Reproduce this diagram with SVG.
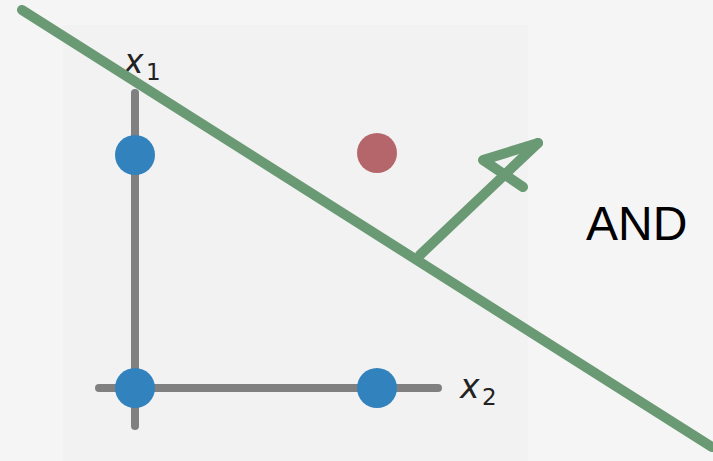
<svg xmlns="http://www.w3.org/2000/svg" width="713" height="461" viewBox="0 0 713 461">
<style>
.axis{stroke:#808080;stroke-width:8;stroke-linecap:round;fill:none}
.pt{fill:#3182bd}
.green{stroke:#6a9a73;stroke-width:10;stroke-linecap:round;stroke-linejoin:round;fill:none}
.lbl{font-family:"DejaVu Sans",sans-serif;fill:#222;font-style:oblique}
.sub{font-family:"DejaVu Sans",sans-serif;fill:#222}
</style>
<rect width="713" height="461" fill="#f5f5f5"/>
<rect x="63" y="25" width="465" height="436" fill="#f2f2f2"/>
<g id="axes">
<line class="axis" x1="135" y1="93" x2="135" y2="426"/>
<line class="axis" x1="99" y1="388" x2="438" y2="388"/>
<text class="lbl" x="124" y="73" font-size="33">x</text>
<text class="sub" x="146" y="80" font-size="23">1</text>
<text class="lbl" x="460" y="398" font-size="33">x</text>
<text class="sub" x="482" y="405" font-size="23">2</text>
</g>
<g id="points">
<circle class="pt" cx="135" cy="155" r="20"/>
<circle class="pt" cx="135" cy="388" r="20"/>
<circle class="pt" cx="377" cy="388" r="20"/>
<circle cx="377" cy="153" r="20" fill="#b5666b"/>
</g>
<g id="connectors">
<line class="green" x1="22" y1="10" x2="712" y2="447"/>
<line class="green" x1="420" y1="255" x2="538" y2="143"/>
<polyline class="green" points="538,143 483,160 523,187"/>
</g>
<g id="label">
<text x="586" y="240" font-family="Liberation Sans, sans-serif" font-size="48" fill="#000">AND</text>
</g>
</svg>
